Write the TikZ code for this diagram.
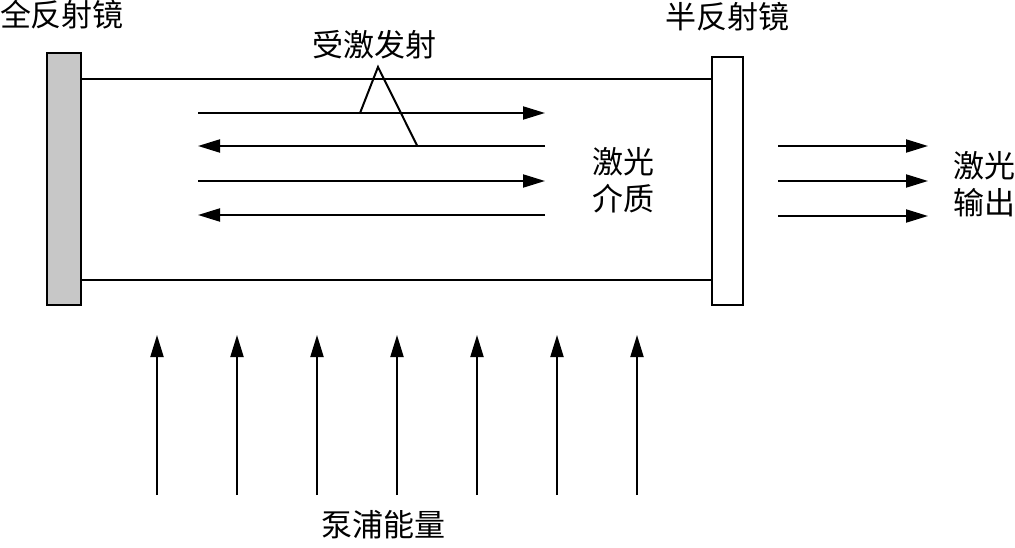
\documentclass[tikz,border=0pt]{standalone}
\usepackage{fontspec}
\setmainfont{Noto Sans CJK SC}
\usepackage{tikz}
\usetikzlibrary{arrows.meta,positioning,calc}
\definecolor{mirrorgray}{gray}{0.78}
\tikzset{
    lbl/.style={font=\fontsize{31}{37}\selectfont, inner sep=0pt, align=center},
    mirror/.style={draw, line width=2pt, inner sep=0pt},
    tube/.style={line width=2pt},
    beam/.style={line width=2pt, -{Triangle[length=22pt,width=13pt]}},
}
\begin{document}
\begin{tikzpicture}[x=1pt, y=-1pt]
    \useasboundingbox (0,0) rectangle (1015,548);

    % 两块反射镜
    \node[mirror, fill=mirrorgray, minimum width=34pt, minimum height=252pt] (full) at (64,179) {};
    \node[mirror, fill=white, minimum width=31pt, minimum height=248pt] (half) at (727.5,181) {};
    \node[lbl] (fullname) at (62,15) {全反射镜};
    \node[lbl] (halfname) at (727,17) {半反射镜};

    % 激光介质管壁
    \draw[tube] (full.east |- 0,79) -- (half.west |- 0,79);
    \draw[tube] (full.east |- 0,280) -- (half.west |- 0,280);
    \node[lbl] (medium) at (623,180) {激光\\介质};

    % 腔内往返光束
    \coordinate (bl1) at (198,113); \coordinate (br1) at (545,113);
    \coordinate (bl2) at (198,146); \coordinate (br2) at (545,146);
    \coordinate (bl3) at (198,181); \coordinate (br3) at (545,181);
    \coordinate (bl4) at (198,215); \coordinate (br4) at (545,215);
    \draw[beam] (bl1) -- (br1); \draw[beam] (br2) -- (bl2);
    \draw[beam] (bl3) -- (br3); \draw[beam] (br4) -- (bl4);

    % 受激发射标注
    \node[lbl] (stim) at (374,45) {受激发射};
    \coordinate (apex) at (378,67);
    \draw[line width=2pt] ($(bl1)!0.467!(br1)$) -- (apex) -- ($(bl2)!0.632!(br2)$);

    % 输出光束
    \foreach \y [count=\i] in {146,181,216} {
        \coordinate (ol\i) at (778,\y); \coordinate (or\i) at (928,\y);
        \draw[beam] (ol\i) -- (or\i);
    }
    \node[lbl] (output) at (984,184) {激光\\输出};

    % 泵浦能量
    \foreach \i in {0,...,6} {
        \coordinate (pb\i) at (157+80*\i,495); \coordinate (pt\i) at (157+80*\i,335);
        \draw[beam] (pb\i) -- (pt\i);
    }
    \node[lbl] (pump) at (383,525) {泵浦能量};
\end{tikzpicture}
\end{document}
